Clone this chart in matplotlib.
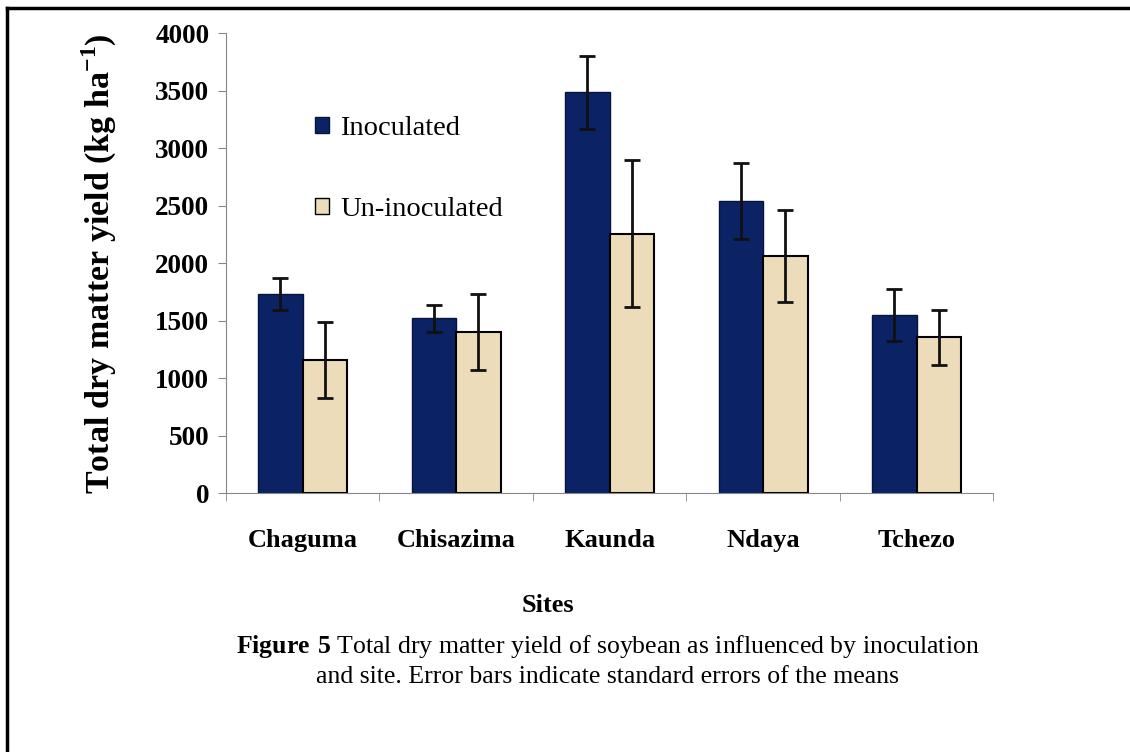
import numpy as np
import matplotlib
matplotlib.use('Agg')
from matplotlib import pyplot as plt
from matplotlib.lines import Line2D

sites = ['Chaguma', 'Chisazima', 'Kaunda', 'Ndaya', 'Tchezo']
inoculated = [1735, 1520, 3485, 2540, 1550]
inoculated_se = [140, 115, 320, 330, 230]
uninoculated = [1160, 1400, 2255, 2060, 1355]
uninoculated_se = [330, 330, 640, 400, 240]
yticks = [0, 500, 1000, 1500, 2000, 2500, 3000, 3500, 4000]

plt.rcParams['font.family'] = ['Liberation Serif', 'DejaVu Serif']
plt.rcParams['mathtext.fontset'] = 'custom'
plt.rcParams['mathtext.rm'] = 'Liberation Serif'
plt.rcParams['mathtext.bf'] = 'Liberation Serif:bold'

fig = plt.figure(figsize=(11.3, 7.52), dpi=100)
ax = fig.add_axes([0.2, 0.344, 0.679, 0.612])

x = np.arange(len(sites))
w = 0.29
ax.bar(x - w/2, inoculated, w, color='#0b2264', edgecolor='#06153f', linewidth=1,
       yerr=inoculated_se, error_kw=dict(ecolor='#111111', elinewidth=2, capsize=6, capthick=2),
       label='Inoculated', zorder=2)
ax.bar(x + w/2, uninoculated, w, color='#ecdcb9', edgecolor='black', linewidth=1.5,
       yerr=uninoculated_se, error_kw=dict(ecolor='#111111', elinewidth=2, capsize=6, capthick=2),
       label='Un-inoculated', zorder=2)

ax.set_xlim(-0.5, len(sites) - 0.5)
ax.set_ylim(0, 4000)
ax.set_yticks(yticks)
ax.set_yticklabels([str(t) for t in yticks], fontsize=19.5, fontweight='bold')
ax.set_xticks(x)
ax.set_xticklabels(sites, fontsize=19, fontweight='bold')
ax.tick_params(axis='x', length=0, pad=26)
ax.set_xticks(np.arange(len(sites) + 1) - 0.5, minor=True)
ax.tick_params(axis='x', which='minor', length=6, color='#888888')
ax.tick_params(axis='y', length=6, color='#888888', pad=6)
for s in ['top', 'right']:
    ax.spines[s].set_visible(False)
for s in ['left', 'bottom']:
    ax.spines[s].set_color('#888888')

ax.set_ylabel('Total dry matter yield (kg ha$^{\\mathbf{-1}}$)', fontsize=24.5, fontweight='bold', labelpad=26)

handles = [plt.Rectangle((0, 0), 1, 1, facecolor='#0b2264', edgecolor='#06153f'),
           plt.Rectangle((0, 0), 1, 1, facecolor='#ecdcb9', edgecolor='black')]
ax.legend(handles, ['Inoculated', 'Un-inoculated'], loc='upper left',
          bbox_to_anchor=(0.082, 0.875), frameon=False, fontsize=20.5,
          handlelength=0.5, handleheight=0.5, handletextpad=0.4, labelspacing=1.95)

fig.text(0.485, 0.195, 'Sites', ha='center', va='center', fontsize=19, fontweight='bold')
fig.text(0.538, 0.14, r'$\mathbf{Figure\ 5}$ Total dry matter yield of soybean as influenced by inoculation',
         ha='center', va='center', fontsize=18.5)
fig.text(0.538, 0.1, 'and site. Error bars indicate standard errors of the means',
         ha='center', va='center', fontsize=18.5)

fig.add_artist(Line2D([0.006, 0.006], [0, 0.99], transform=fig.transFigure, color='black', lw=2.5))
fig.add_artist(Line2D([0.006, 1.0], [0.99, 0.99], transform=fig.transFigure, color='black', lw=2.5))

fig.savefig('out.png', dpi=100)
